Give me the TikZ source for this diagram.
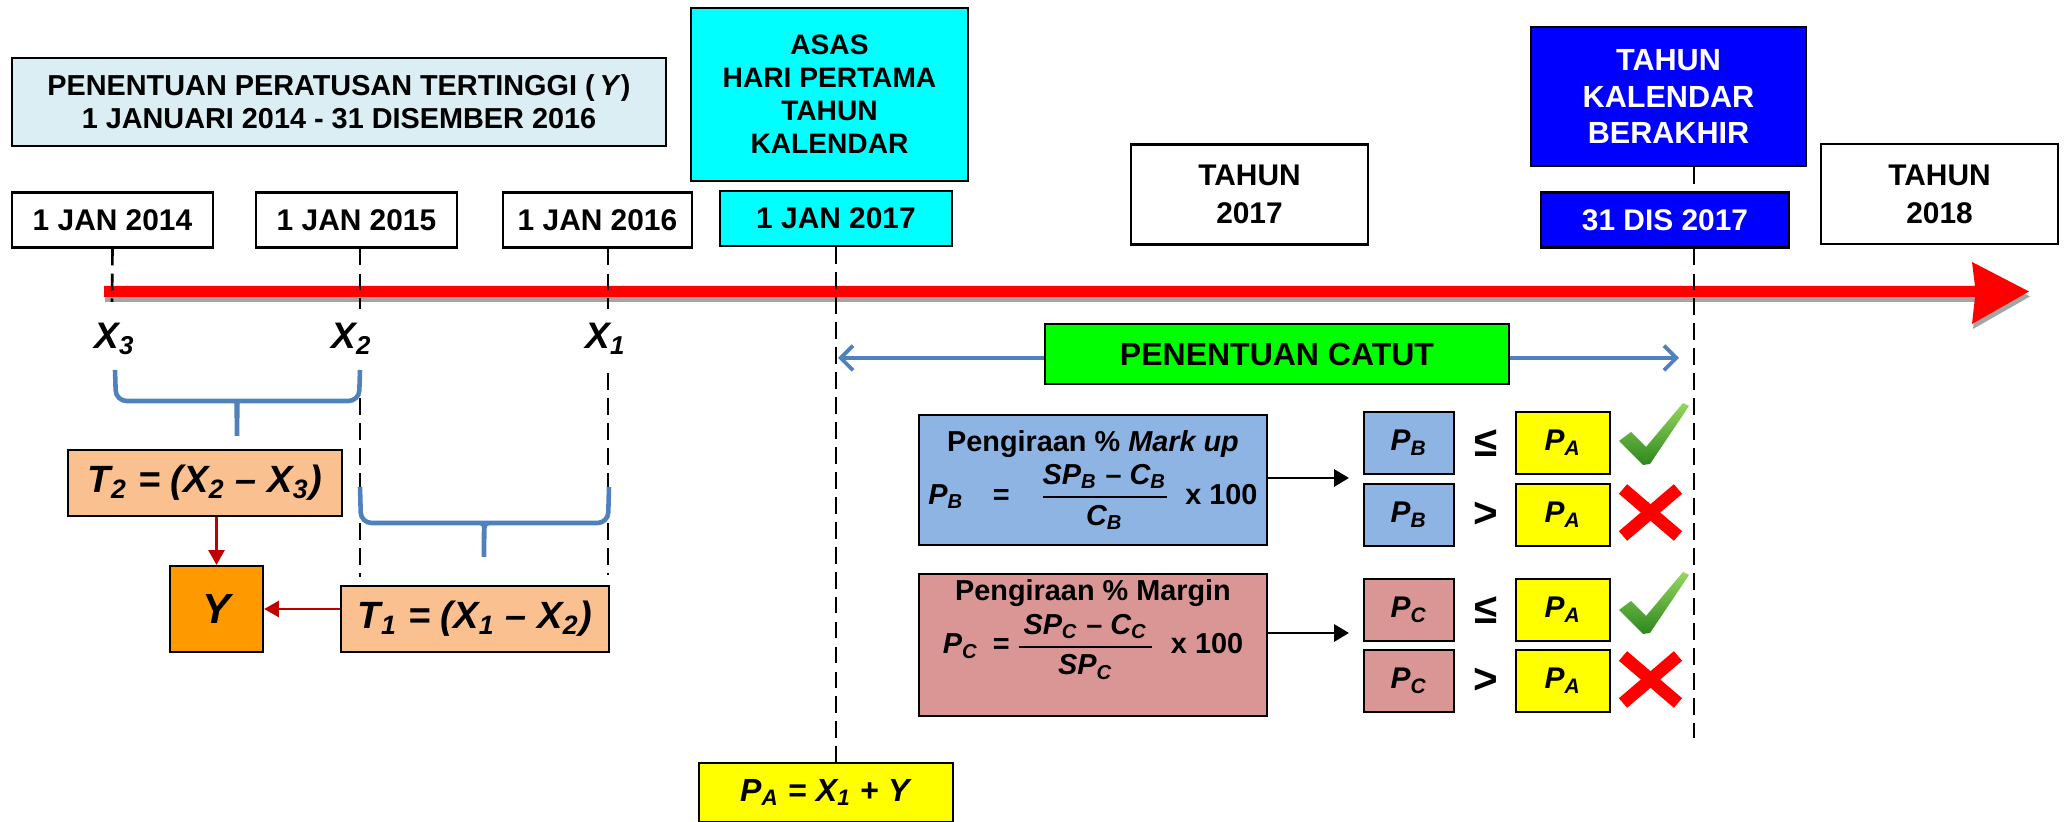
\documentclass[tikz,border=0pt]{standalone}
\usepackage{amsmath}
\usepackage{fontspec}
\setmainfont{Liberation Sans}
\usetikzlibrary{arrows.meta,positioning}
\definecolor{tlred}{RGB}{255,0,0}
\definecolor{tlshade}{RGB}{165,165,165}
\definecolor{boxtitle}{RGB}{218,238,243}
\definecolor{boxcyan}{RGB}{0,255,255}
\definecolor{boxblue}{RGB}{0,0,255}
\definecolor{boxgreen}{RGB}{0,255,0}
\definecolor{boxmark}{RGB}{142,180,227}
\definecolor{boxmarg}{RGB}{217,150,148}
\definecolor{boxpeach}{RGB}{250,192,144}
\definecolor{boxorange}{RGB}{255,153,0}
\definecolor{boxyellow}{RGB}{255,255,0}
\definecolor{brblue}{RGB}{79,129,189}
\definecolor{arrred}{RGB}{192,0,0}
\definecolor{chkhi}{RGB}{150,215,95}
\definecolor{chklo}{RGB}{45,135,30}
\newcommand{\vsub}[2]{\textit{#1\textsubscript{#2}}}

\begin{document}
\begin{tikzpicture}[x=0.01cm, y=-0.01cm,
  every node/.style={inner sep=0pt, font=\bfseries},
  box/.style={draw=black, line width=0.6pt, align=center},
  datebox/.style={box, fill=white, minimum height=0.55cm, font=\fontsize{8.5}{10}\selectfont\bfseries},
  yearbox/.style={box, fill=white, minimum width=2.37cm, minimum height=1cm, font=\fontsize{8.5}{10.8}\selectfont\bfseries},
  cmpbox/.style={box, minimum height=0.62cm, font=\fontsize{8.5}{10}\selectfont\bfseries},
  tbox/.style={box, fill=boxpeach, minimum height=0.66cm, font=\fontsize{10.8}{12}\selectfont\bfseries\itshape},
  dashln/.style={black, line width=0.75pt, dash pattern=on 4.8pt off 2.3pt},
  brace/.style={brblue, line width=1.3pt, rounded corners=3pt},
  red arrow/.style={arrred, line width=0.8pt, -{Triangle[length=4.2pt,width=4.5pt]}},
  blk arrow/.style={black, line width=0.8pt, -{Triangle[length=4.2pt,width=4.8pt]}},
  blue arrow/.style={brblue, line width=1.1pt, -{Straight Barb[length=3.5pt,width=7pt]}}]
\useasboundingbox (0,0) rectangle (2065,822);

% Timeline with its shadow
\fill[tlshade, shift={(1,5)}] (104,286) -- (1975,286) -- (1972,262) -- (2029,291.5) -- (1972,324) -- (1975,297) -- (104,297) -- cycle;
\fill[tlred] (104,286) -- (1975,286) -- (1972,262) -- (2029,291.5) -- (1972,324) -- (1975,297) -- (104,297) -- cycle;

% Period of the highest percentage
\node[box, fill=boxtitle, minimum width=6.54cm, minimum height=0.88cm, font=\fontsize{8.2}{9.4}\selectfont\bfseries] (title) at (339,102) {PENENTUAN PERATUSAN TERTINGGI (\,\textit{Y})\\1 JANUARI 2014 - 31 DISEMBER 2016};

% Dates on the timeline
\foreach \nm/\x/\w/\txt in {d14/112.5/2.01/1 JAN 2014, d15/356.5/2.01/1 JAN 2015, d16/597.5/1.89/1 JAN 2016}
  \node[datebox, minimum width=\w cm] (\nm) at (\x,220) {\txt};
\node[datebox, fill=boxcyan, minimum width=2.32cm] (d17) at (836,218.5) {1 JAN 2017};
\node[datebox, fill=boxblue, text=white, minimum width=2.48cm] (dis) at (1665,220) {31 DIS 2017};

% Base and end of the calendar year
\node[box, fill=boxcyan, minimum width=2.77cm, minimum height=1.73cm, font=\fontsize{8}{9.4}\selectfont\bfseries] (asas) at (829.5,94.5) {ASAS\\HARI PERTAMA\\TAHUN\\KALENDAR};
\node[box, fill=boxblue, text=white, minimum width=2.75cm, minimum height=1.39cm, font=\fontsize{8.7}{10.5}\selectfont\bfseries] (akhir) at (1668.5,96.5) {TAHUN\\KALENDAR\\BERAKHIR};
\node[yearbox] (y17) at (1249.5,194.5) {TAHUN\\2017};
\node[yearbox] (y18) at (1939.5,194) {TAHUN\\2018};

% T1, T2 and Y
\node[tbox, minimum width=2.74cm] (T2) at (205,483) {T\textsubscript{2} = (X\textsubscript{2} -- X\textsubscript{3})};
\node[box, fill=boxorange, minimum width=0.93cm, minimum height=0.86cm, font=\fontsize{12}{14}\selectfont\bfseries\itshape] (Y) at (216.5,609) {Y};
\node[tbox, minimum width=2.68cm] (T1) at (475,619) {T\textsubscript{1} = (X\textsubscript{1} -- X\textsubscript{2})};
\node[box, fill=boxyellow, minimum width=2.54cm, minimum height=0.59cm, font=\fontsize{9.1}{11}\selectfont\bfseries] (PA) at (826,792.5) {\vsub{P}{A} = \vsub{X}{1} + \textit{Y}};

% Dashed markers
\coordinate (x3end) at (112,302);
\coordinate (x2end) at (360,577);
\coordinate (x1end) at (608,575);
\coordinate (disend) at (1694,738);
\draw[dashln] (d14.south) -- (x3end);
\draw[dashln] (d15.south -| x2end) -- (x2end);
\draw[dashln] (d16.south -| x1end) -- (x1end);
\draw[dashln] (d17.south) -- (d17.south |- PA.north);
\draw[dashln] (akhir.south -| disend) -- (dis.north -| disend);
\draw[dashln] (dis.south -| disend) -- (disend);

% X labels
\foreach \nm/\x/\i in {lx3/115/3, lx2/352/2, lx1/606/1}
  \node[fill=white, inner ysep=4pt, inner xsep=1pt, font=\fontsize{10.5}{12}\selectfont\bfseries\itshape] (\nm) at (\x,339) {X\textsubscript{\i}};

% Braces
\draw[brace] (115,370) -- (116,401) -- (229,401) .. controls (235,401) and (237,408) .. (237,442) .. controls (237,408) and (239,401) .. (245,401) -- (359,401) -- (360,370);
\draw[brace] (360,487) -- (361,523) -- (478,523) .. controls (483,523) and (484,530) .. (484,563) .. controls (484,530) and (486,523) .. (491,523) -- (608,523) -- (609,487);
\draw[red arrow] (T2.south -| Y.north) -- (Y.north);
\draw[red arrow] (T1.west |- Y.east) -- (Y.east);

% Profit window
\coordinate (catL) at (838,358);
\coordinate (catR) at (1679,358);
\node[box, fill=boxgreen, minimum width=4.64cm, minimum height=0.6cm, font=\fontsize{9.1}{11}\selectfont\bfseries] (catut) at (1277,354) {PENENTUAN CATUT};
\draw[blue arrow] (catut.west |- catL) -- (catL);
\draw[blue arrow] (catut.east |- catR) -- (catR);

% Mark up and margin
\node[box, fill=boxmark, minimum width=3.48cm, minimum height=1.3cm, font=\fontsize{8.2}{10}\selectfont\bfseries] (markup) at (1093,480) {Pengiraan \% \textit{Mark up}\\[1pt]$\text{\vsub{P}{B}\quad=\quad}\genfrac{}{}{0.6pt}{0}{\text{\vsub{SP}{B} -- \vsub{C}{B}}}{\text{\vsub{C}{B}}}\text{\enspace x 100}$};
\node[box, fill=boxmarg, minimum width=3.48cm, minimum height=1.42cm, font=\fontsize{8.2}{10}\selectfont\bfseries] (margin) at (1093,645) {Pengiraan \% Margin\\[1pt]$\text{\vsub{P}{C}\enspace=\,}\genfrac{}{}{0.6pt}{0}{\text{\,\vsub{SP}{C} -- \vsub{C}{C}\,}}{\text{\vsub{SP}{C}}}\text{\enspace x 100}$\\[6pt]};
\coordinate (tipB) at (1349,478);
\coordinate (tipC) at (1349,633);
\draw[blk arrow] (markup.east |- tipB) -- (tipB);
\draw[blk arrow] (margin.east |- tipC) -- (tipC);

% Comparisons with P_A
\foreach \rowi/\rowy/\rowv/\rowfill/\rowrel in {1/443/B/boxmark/≤, 2/515/B/boxmark/>, 3/610/C/boxmarg/≤, 4/681/C/boxmarg/>} {
  \node[cmpbox, fill=\rowfill, minimum width=0.9cm] (lhs\rowi) at (1409,\rowy) {\vsub{P}{\rowv}};
  \node[font=\fontsize{12}{13}\selectfont\bfseries] (rel\rowi) at (1486,\rowy) {\rowrel};
  \node[cmpbox, fill=boxyellow, minimum width=0.94cm] (pa\rowi) at (1563,\rowy) {\vsub{P}{A}};
}

% Ticks and crosses
\foreach \cy in {403,572}
  \shade[top color=chkhi, bottom color=chklo, shift={(1619,\cy)}] (0,38) -- (12,29) -- (27,44) -- (64,0) -- (70,3) -- (31,61) -- (24,62) -- cycle;
\foreach \cy in {486,653} {
  \draw[tlred, line width=3.6pt] (1623,\cy+3) -- (1678,\cy+50);
  \draw[tlred, line width=3.6pt] (1678,\cy+3) -- (1623,\cy+50);
}
\end{tikzpicture}
\end{document}
